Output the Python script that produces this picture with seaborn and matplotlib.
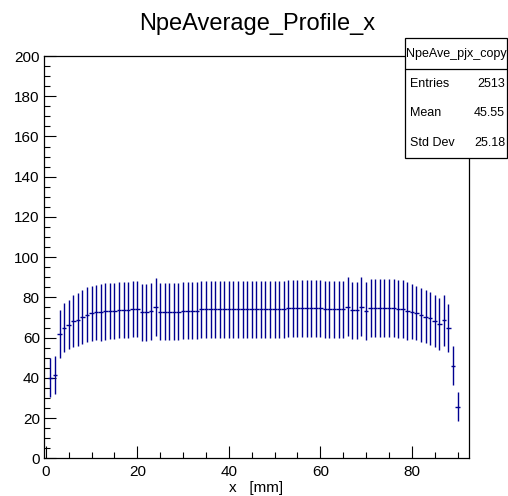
import matplotlib
matplotlib.use("Agg")
import matplotlib.pyplot as plt
from matplotlib.patches import Rectangle
from matplotlib.lines import Line2D
from matplotlib.ticker import MultipleLocator
import seaborn as sns

# profile bins (bin centre in mm), mean Npe and error per bin
x_mm = list(range(1, 91))
npe_mean = [
    40.0, 41.5, 61.8, 65.0, 66.5, 68.2, 68.8, 70.1, 71.3, 72.1,
    72.5, 72.5, 73.0, 73.3, 73.3, 73.8, 73.8, 73.8, 74.3, 74.3,
    72.5, 72.5, 73.0, 75.1, 72.9, 72.9, 72.9, 72.9, 72.9, 73.4,
    73.4, 73.4, 73.4, 74.0, 74.0, 74.0, 74.0, 74.0, 74.0, 74.0,
    74.0, 74.0, 74.0, 74.0, 74.0, 74.0, 74.0, 74.0, 74.0, 74.0,
    74.0, 74.0, 74.6, 74.6, 74.6, 74.6, 74.6, 74.6, 74.6, 74.6,
    74.0, 74.0, 74.0, 74.0, 74.0, 75.4, 73.5, 73.5, 75.4, 73.4,
    74.8, 74.8, 74.8, 74.6, 74.6, 74.6, 74.1, 74.1, 73.4, 72.9,
    72.4, 71.3, 70.5, 69.7, 68.3, 66.7, 68.6, 64.7, 46.0, 25.7,
]
npe_err = [
    9.7, 9.5, 12.0, 12.1, 12.4, 13.0, 13.2, 13.4, 13.7, 13.7,
    13.9, 14.1, 14.1, 14.1, 14.1, 14.1, 14.1, 14.1, 14.1, 14.1,
    14.2, 14.2, 14.2, 14.5, 14.1, 14.1, 14.1, 14.1, 14.1, 14.3,
    14.3, 14.3, 14.3, 14.3, 14.3, 14.3, 14.3, 14.3, 14.3, 14.3,
    14.3, 14.3, 14.3, 14.3, 14.3, 14.3, 14.3, 14.3, 14.3, 14.3,
    14.3, 14.3, 14.3, 14.3, 14.3, 14.3, 14.3, 14.3, 14.3, 14.3,
    14.3, 14.3, 14.3, 14.3, 14.3, 14.6, 14.3, 14.3, 14.6, 14.4,
    14.4, 14.4, 14.4, 14.4, 14.4, 14.4, 14.4, 14.4, 14.4, 13.6,
    13.5, 13.5, 13.3, 13.2, 13.0, 12.8, 12.6, 11.9, 9.8, 7.4,
]
stat_names = ["Entries", "Mean", "Std Dev"]
stat_values = ["2513", "45.55", "25.18"]

sns.set_theme(style="ticks", rc={"text.color": "black", "axes.labelcolor": "black",
                                 "xtick.color": "black", "ytick.color": "black",
                                 "axes.edgecolor": "black"})
plt.rcParams["font.family"] = ["Liberation Sans", "DejaVu Sans"]

fig = plt.figure(figsize=(5.08, 4.96), dpi=100)
ax = fig.add_axes([0.0866, 0.076, 0.8366, 0.811])

ax.errorbar(x_mm, npe_mean, xerr=0.5, yerr=npe_err, fmt="none",
            ecolor="#000090", elinewidth=1.0, capsize=0)

ax.set_xlim(-0.4, 92.5)
ax.set_ylim(0, 200)
ax.xaxis.set_major_locator(MultipleLocator(20))
ax.xaxis.set_minor_locator(MultipleLocator(5))
ax.yaxis.set_major_locator(MultipleLocator(20))
ax.yaxis.set_minor_locator(MultipleLocator(5))
ax.tick_params(which="both", direction="in", color="black", labelcolor="black",
               width=0.8, labelsize=11, top=False, right=False)
ax.tick_params(which="major", length=8.5)
ax.tick_params(which="minor", length=4.3)
ax.tick_params(axis="x", pad=5)
ax.tick_params(axis="y", pad=3)
for s in ax.spines.values():
    s.set_color("black")
    s.set_linewidth(0.9)
ax.set_xlabel("x   [mm]", fontsize=11, labelpad=1, color="black")
ax.set_ylabel("")

fig.text(0.506, 1 - 30 / 496, "NpeAverage_Profile_x", fontsize=17,
         ha="center", va="baseline", color="black")

# stats box
bx0, bx1 = 405 / 508, 507 / 508
by0, by1 = 1 - 158 / 496, 1 - 38 / 496
fig.add_artist(Rectangle((bx0, by0), bx1 - bx0, by1 - by0, transform=fig.transFigure,
                         facecolor="white", edgecolor="black", linewidth=0.9, zorder=5))
sep = 1 - 69 / 496
fig.add_artist(Line2D([bx0, bx1], [sep, sep], transform=fig.transFigure,
                      color="black", linewidth=0.9, zorder=6))
fig.text((bx0 + bx1) / 2, 1 - 54 / 496, "NpeAve_pjx_copy", fontsize=9,
         ha="center", va="center", zorder=7, color="black")
for i, (name, val) in enumerate(zip(stat_names, stat_values)):
    yy = 1 - (84 + 29.5 * i) / 496
    fig.text(410 / 508, yy, name, fontsize=9, ha="left", va="center", zorder=7, color="black")
    fig.text(505 / 508, yy, val, fontsize=9, ha="right", va="center", zorder=7, color="black")

fig.savefig("out.png", dpi=100)
